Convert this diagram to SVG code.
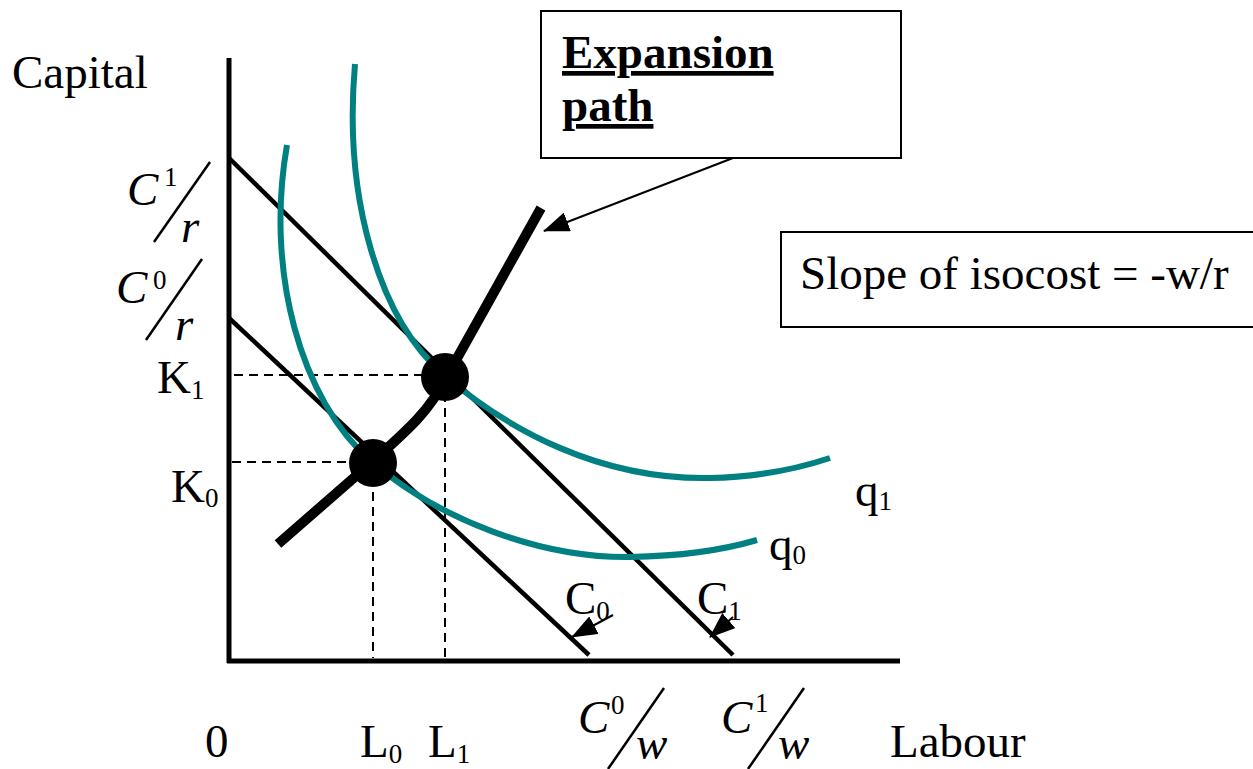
<svg xmlns="http://www.w3.org/2000/svg" width="1253" height="769" viewBox="0 0 1253 769" font-family="'Liberation Serif', 'DejaVu Serif', serif">
<style>
text{font-family:'Liberation Serif','DejaVu Serif',serif;fill:#000;font-size:47px}
.it{font-style:italic}
.sup{font-size:27px}
.ax{stroke:#000;stroke-width:5;fill:none}
.iso{stroke:#000;stroke-width:4.5;fill:none}
.dash{stroke:#000;stroke-width:2;stroke-dasharray:9 6;fill:none}
.q{stroke:#008080;stroke-width:6;fill:none}
.sl{stroke:#000;stroke-width:2.5}
.box{fill:#fff;stroke:#000;stroke-width:2}
</style>
<defs>
<marker id="ahb" markerWidth="26" markerHeight="20" refX="25" refY="10" orient="auto" markerUnits="userSpaceOnUse" viewBox="0 0 26 20">
<path d="M0,0 L26,10 L0,20 Z" fill="#000"/>
</marker>
</defs>
<rect width="1253" height="769" fill="#fff"/>
<g id="connectors">
<line class="dash" x1="234" y1="375" x2="440" y2="375"/>
<line class="dash" x1="445" y1="378" x2="445" y2="658"/>
<line class="dash" x1="232" y1="462" x2="370" y2="462"/>
<line class="dash" x1="373" y1="462" x2="373" y2="658"/>
<line id="isocost-C1" class="iso" x1="229" y1="158" x2="733" y2="655"/>
<line id="isocost-C0" class="iso" x1="229" y1="318" x2="589" y2="655"/>
<path id="q1" class="q" d="M355,64 C343,200 380,320 444,375 C508,430 600,480 710,478 C760,477 800,468 830,458"/>
<path id="q0" class="q" d="M287,145 C265,270 300,400 372,462 C440,520 540,558 630,557 C690,556 730,548 757,540"/>
<path id="expansion" d="M278,544 L372,462 C410,428 430,410 446,378 L541,208" stroke="#000" stroke-width="10" fill="none" stroke-linejoin="round"/>
<line x1="733" y1="158" x2="544" y2="231" stroke="#000" stroke-width="2" marker-end="url(#ahb)"/>
<line x1="613" y1="615" x2="572" y2="637" stroke="#000" stroke-width="2" marker-end="url(#ahb)"/>
<line x1="733" y1="617" x2="710" y2="637" stroke="#000" stroke-width="2" marker-end="url(#ahb)"/>
</g>
<g id="axes">
<line class="ax" x1="229" y1="58" x2="229" y2="663"/>
<line class="ax" x1="227" y1="661" x2="900" y2="661"/>
</g>
<g id="dot-upper"><circle cx="445" cy="377" r="24" fill="#000"/></g>
<g id="dot-lower"><circle cx="373" cy="463" r="24" fill="#000"/></g>
<g id="expansion-box">
<rect class="box" x="541" y="11" width="360" height="147"/>
<text x="562" y="68" font-weight="bold" text-decoration="underline">Expansion</text>
<text x="562" y="121" font-weight="bold" text-decoration="underline">path</text>
</g>
<g id="slope-box">
<rect class="box" x="781" y="232" width="480" height="95"/>
<text x="800" y="289">Slope of isocost = -w/r</text>
</g>
<g id="labels">
<text x="12" y="88">Capital</text>
<text x="890" y="757">Labour</text>
<text x="205" y="757">0</text>
<text x="360" y="757">L<tspan class="sup" dy="6">0</tspan></text>
<text x="428" y="757">L<tspan class="sup" dy="6">1</tspan></text>
<text x="157" y="393">K<tspan class="sup" dy="6">1</tspan></text>
<text x="171" y="502">K<tspan class="sup" dy="5">0</tspan></text>
<text x="855" y="506">q<tspan class="sup" dy="4">1</tspan></text>
<text x="769" y="560">q<tspan class="sup" dy="4">0</tspan></text>
<text x="565" y="614">C<tspan class="sup" dy="6">0</tspan></text>
<text x="697" y="614">C<tspan class="sup" dy="6">1</tspan></text>
</g>
<g id="frac-C1-r">
<text class="it" x="127" y="205">C</text>
<text class="sup" x="164" y="186">1</text>
<line class="sl" x1="210" y1="162" x2="154" y2="242"/>
<text class="it" x="181" y="242">r</text>
</g>
<g id="frac-C0-r">
<text class="it" x="116" y="303">C</text>
<text class="sup" x="153" y="289">0</text>
<line class="sl" x1="202" y1="259" x2="146" y2="340"/>
<text class="it" x="175" y="340">r</text>
</g>
<g id="frac-C0-w">
<text class="it" x="578" y="733">C</text>
<text class="sup" x="611" y="714">0</text>
<line class="sl" x1="664" y1="688" x2="608" y2="769"/>
<text class="it" x="636" y="759">w</text>
</g>
<g id="frac-C1-w">
<text class="it" x="721" y="733">C</text>
<text class="sup" x="755" y="712">1</text>
<line class="sl" x1="804" y1="688" x2="748" y2="769"/>
<text class="it" x="778" y="759">w</text>
</g>
</svg>
